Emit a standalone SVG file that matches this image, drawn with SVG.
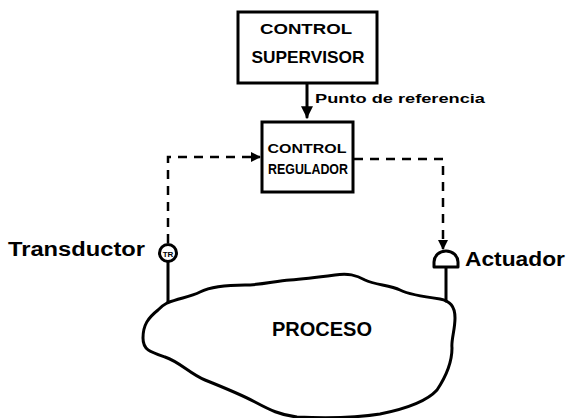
<svg xmlns="http://www.w3.org/2000/svg" width="568" height="418" viewBox="0 0 568 418">
  <style>
    .box { fill: #fff; stroke: #000; stroke-width: 3; }
    .solid { fill: none; stroke: #000; stroke-width: 3; stroke-linejoin: round; stroke-linecap: round; }
    .dash { fill: none; stroke: #000; stroke-width: 2.5; stroke-dasharray: 9 7; }
    .lbl { font-family: "Liberation Sans", "DejaVu Sans", sans-serif; font-weight: bold; fill: #000; }
  </style>
  <defs>
    <marker id="arr" viewBox="0 0 10 10" refX="9" refY="5" markerWidth="4" markerHeight="4" orient="auto" markerUnits="strokeWidth">
      <path d="M0,0 L10,5 L0,10 z" fill="#000"/>
    </marker>
  </defs>
  <rect width="568" height="418" fill="#fff"/>

  <!-- connectors -->
  <g id="connectors">
    <path class="solid" d="M307,84 L307,117" marker-end="url(#arr)"/>
    <path class="dash" d="M168,243 L168,157 L260,157" marker-end="url(#arr)"/>
    <path class="dash" d="M354,159 L443,159 L443,249" marker-end="url(#arr)"/>
    <path class="solid" d="M168,262 L168,302"/>
    <path class="solid" d="M446,268 L446,301"/>
  </g>

  <g id="supervisor">
    <rect class="box" x="238" y="12" width="139" height="71"/>
    <text class="lbl" x="306" y="34" font-size="14" text-anchor="middle" textLength="92" lengthAdjust="spacingAndGlyphs">CONTROL</text>
    <text class="lbl" x="308" y="63" font-size="17" text-anchor="middle" textLength="113" lengthAdjust="spacingAndGlyphs">SUPERVISOR</text>
  </g>

  <g id="setpoint-label">
    <text class="lbl" x="315" y="103" font-size="13" textLength="170" lengthAdjust="spacingAndGlyphs">Punto de referencia</text>
  </g>

  <g id="regulador">
    <rect class="box" x="262" y="122" width="91" height="70"/>
    <text class="lbl" x="307" y="153" font-size="13" text-anchor="middle" textLength="79" lengthAdjust="spacingAndGlyphs">CONTROL</text>
    <text class="lbl" x="308" y="174" font-size="14" text-anchor="middle" textLength="80" lengthAdjust="spacingAndGlyphs">REGULADOR</text>
  </g>

  <g id="transductor">
    <circle cx="168" cy="253" r="8.5" fill="#fff" stroke="#000" stroke-width="3"/>
    <text class="lbl" x="168" y="256.5" font-size="8" text-anchor="middle">TR</text>
    <text class="lbl" x="8" y="256" font-size="20" textLength="137" lengthAdjust="spacingAndGlyphs">Transductor</text>
  </g>

  <g id="actuador">
    <path d="M434,267 L434,262 A12,11 0 0 1 458,262 L458,267 Z" fill="#fff" stroke="#000" stroke-width="3" stroke-linejoin="round"/>
    <text class="lbl" x="465" y="266" font-size="20" textLength="100" lengthAdjust="spacingAndGlyphs">Actuador</text>
  </g>

  <g id="proceso">
    <path class="solid" stroke-width="3.5" d="M167,303 C180,298 190,297 200,292 C210,287 225,285 245,285 C262,285 275,281 290,280 C305,279 320,277 335,275 C348,273 356,275 365,280 C375,285 390,285 400,290 C410,295 425,297 440,299 C450,301 455,306 455,318 C455,330 451,340 452,348 C452,362 445,378 437,390 C428,400 410,408 380,414 C355,418 320,418 297,417 C280,415 270,410 255,402 C240,394 225,388 205,380 C190,374 180,362 165,357 C150,352 143,350 143,338 C143,325 148,318 158,310 C162,306 165,304 167,303 Z"/>
    <text class="lbl" x="322" y="336" font-size="20" text-anchor="middle" textLength="100" lengthAdjust="spacingAndGlyphs">PROCESO</text>
  </g>
</svg>
